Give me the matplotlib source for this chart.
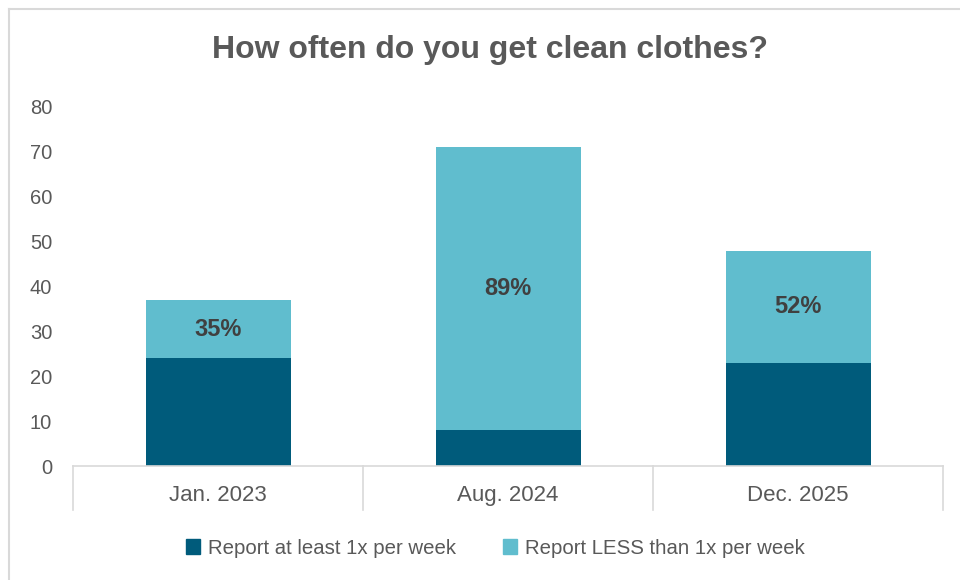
import matplotlib.pyplot as plt
from matplotlib.patches import Patch
from matplotlib.lines import Line2D

# data
categories = ["Jan. 2023", "Aug. 2024", "Dec. 2025"]
at_least_weekly = [24, 8, 23]
less_than_weekly = [13, 63, 25]
pct_labels = ["35%", "89%", "52%"]

dark = "#005B7B"
light = "#60BDCE"
text_gray = "#595959"
line_gray = "#D9D9D9"
font = ["Liberation Sans", "DejaVu Sans"]
plt.rcParams["font.family"] = font

W, H = 960, 580
fig = plt.figure(figsize=(W / 100, H / 100), dpi=100)

# chart area border (only top/left visible in crop)
fig.add_artist(Line2D([9 / W, 9 / W], [0, 1 - 9 / H], color=line_gray, lw=1.5))
fig.add_artist(Line2D([9 / W, 1], [1 - 9 / H, 1 - 9 / H], color=line_gray, lw=1.5))

left, right, top, bottom = 73, 943, 107, 466
ax = fig.add_axes([left / W, 1 - bottom / H, (right - left) / W, (bottom - top) / H])

x = range(len(categories))
ax.bar(x, at_least_weekly, width=0.5, color=dark)
ax.bar(x, less_than_weekly, width=0.5, bottom=at_least_weekly, color=light)

for i, lab in enumerate(pct_labels):
    y = at_least_weekly[i] + less_than_weekly[i] / 2
    ax.text(i, y, lab, ha="center", va="center", fontsize=17, fontweight="bold",
            color="#404040")

ax.set_xlim(-0.5, len(categories) - 0.5)
ax.set_ylim(0, 80)
ax.set_yticks(range(0, 81, 10))
for s in ["top", "right", "left"]:
    ax.spines[s].set_visible(False)
ax.spines["bottom"].set_color(line_gray)
ax.spines["bottom"].set_linewidth(1.2)

ax.tick_params(axis="y", length=0, pad=15, labelsize=14.5, labelcolor=text_gray)
ax.set_xticks(list(x))
ax.set_xticklabels(categories, fontsize=16, color=text_gray)
ax.tick_params(axis="x", length=0, pad=14)

# category separators below the axis
sep_depth = 44 / (bottom - top)
for xs in [i - 0.5 for i in range(len(categories) + 1)]:
    ax.plot([xs, xs], [0, -sep_depth], color=line_gray, lw=1.2,
            transform=ax.get_xaxis_transform(), clip_on=False)

fig.text(0.51, 1 - 50 / H, "How often do you get clean clothes?", ha="center", va="center",
         fontsize=23, fontweight="bold", color=text_gray)

handles = [Patch(color=dark), Patch(color=light)]
fig.legend(handles, ["Report at least 1x per week", "Report LESS than 1x per week"],
           loc="center", bbox_to_anchor=(0.516, 1 - 548 / H), ncol=2, frameon=False,
           prop={"size": 14.7}, labelcolor=text_gray,
           handlelength=0.7, handleheight=0.7, handletextpad=0.4, columnspacing=2.3)

fig.savefig("out.png", dpi=100)
